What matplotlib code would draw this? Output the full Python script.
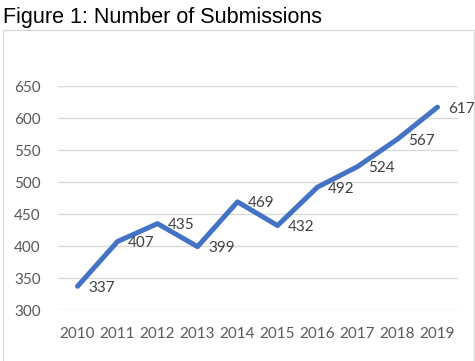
import matplotlib.pyplot as plt
from matplotlib.patches import Rectangle

years = ['2010', '2011', '2012', '2013', '2014', '2015', '2016', '2017', '2018', '2019']
submissions = [337, 407, 435, 399, 469, 432, 492, 524, 567, 617]
y_ticks = [300, 350, 400, 450, 500, 550, 600, 650]

W, H = 475, 361
fig = plt.figure(figsize=(W / 100, H / 100), dpi=100)

# chart frame (light grey box under the title)
fig.patches.append(Rectangle((3 / W, -0.05), 470.5 / W, 1.05 - 30 / H, transform=fig.transFigure,
                             fill=False, edgecolor='#d9d9d9', linewidth=0.9))

fig.text(3 / W, 1 - 18 / H, 'Figure 1: Number of Submissions', fontsize=15.5,
         family='Liberation Sans', va='center', ha='left', color='black')

ax = fig.add_axes([57.5 / W, 1 - 310 / H, 400 / W, 224 / H])
x = range(len(years))
ax.plot(x, submissions, color='#4472c4', linewidth=3.6, solid_capstyle='round', solid_joinstyle='round', zorder=3)

# data labels to the right of each point
for i, v in enumerate(submissions):
    ax.annotate(str(v), (i, v), xytext=(7.5, -1), textcoords='offset points', ha='left', va='center',
                fontsize=11, family='Lato', color='#404040')

ax.set_xlim(-0.5, len(years) - 0.5)
ax.set_ylim(300, 650)
ax.set_yticks(y_ticks)
ax.set_xticks(list(x))
ax.set_xticklabels(years)
ax.grid(axis='y', color='#d9d9d9', linewidth=1)
ax.set_axisbelow(True)
for s in ax.spines.values():
    s.set_visible(False)
ax.tick_params(length=0, labelsize=11, labelcolor='#595959', pad=12)
for lab in ax.get_xticklabels() + ax.get_yticklabels():
    lab.set_family('Lato')

fig.savefig('out.png', dpi=100)
